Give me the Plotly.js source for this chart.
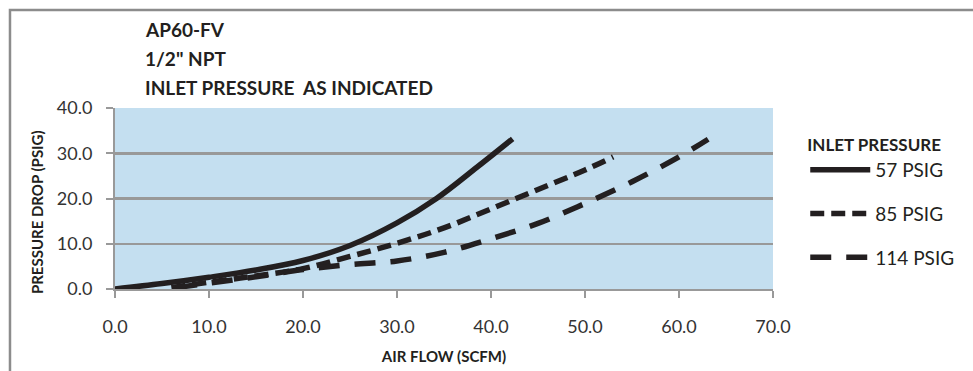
<!DOCTYPE html>
<html><head><meta charset="utf-8">
<script src="https://cdn.plot.ly/plotly-3.0.1.min.js"></script>
<style>html,body{margin:0;padding:0;background:#fff;} #chart{width:973px;height:371px;}</style>
</head><body><div id="chart"></div>
<script>
// Data
const flow57 = [0, 5, 10, 15, 20, 25, 30, 34.2, 38.5, 42.3];
const drop57 = [0, 1.2, 2.6, 4.2, 6.3, 9.6, 14.6, 20.0, 26.9, 33.2];
const flow85 = [6, 10, 15, 20, 25, 30, 35, 40, 45, 50, 53];
const drop85 = [0.3, 1.5, 2.9, 4.5, 7.2, 10.1, 13.5, 17.7, 22.0, 26.3, 29.2];
const flow114 = [6.5, 10, 15, 20, 25, 30, 35, 40, 45, 50, 55, 60, 63.1];
const drop114 = [0.3, 1.3, 2.7, 4.3, 5.4, 6.2, 8.1, 11.1, 14.5, 18.9, 23.7, 29.2, 33.1];
const seriesNames = ['57 PSIG', '85 PSIG', '114 PSIG'];
const xTicks = [0, 10, 20, 30, 40, 50, 60, 70];
const yTicks = [0, 10, 20, 30, 40];
const titleLines = ['AP60-FV', '1/2" NPT', 'INLET PRESSURE\u00a0\u00a0AS INDICATED'];
const legendTitle = 'INLET PRESSURE';
const xTitle = 'AIR FLOW (SCFM)';
const yTitle = 'PRESSURE DROP (PSIG)';

const FONT = 'Lato, "Open Sans", sans-serif';
const INK = '#231f20';
const GRID = '#999999';

const dashes = ['solid', '14px,7px', '21px,15px'];
const xs = [flow57, flow85, flow114];
const ys = [drop57, drop85, drop114];

const traces = seriesNames.map((name, i) => ({
  type: 'scatter', mode: 'lines', name: name,
  x: xs[i], y: ys[i],
  legendgroup: 'g' + i,
  line: {color: INK, width: 5.5, dash: dashes[i], shape: 'spline', smoothing: 1.0}
}));

const titleY = [1.431, 1.276, 1.116];
const annotations = titleLines.map((t, i) => ({
  text: t, xref: 'paper', yref: 'paper', x: 0.0426, y: titleY[i],
  xanchor: 'left', yanchor: 'middle', showarrow: false,
  font: {family: FONT, size: 19, weight: 'bold', color: INK}
}));
annotations.push({
  text: yTitle, xref: 'paper', yref: 'paper', x: -0.1185, y: 0.425,
  xanchor: 'center', yanchor: 'middle', showarrow: false, textangle: -90,
  font: {family: FONT, size: 15, weight: 'bold', color: INK}
});

const layout = {
  width: 973, height: 371,
  margin: {l: 115, r: 200, t: 108, b: 82, pad: 0},
  paper_bgcolor: '#ffffff',
  plot_bgcolor: '#c4dff0',
  showlegend: true,
  xaxis: {
    range: [0, 70], tickvals: xTicks, tickformat: '.1f',
    showline: true, linecolor: GRID, linewidth: 2,
    ticks: 'outside', ticklen: 7, tickwidth: 2, tickcolor: GRID,
    ticklabelstandoff: 13,
    showgrid: false, zeroline: false, fixedrange: true,
    tickfont: {family: FONT, size: 18, color: '#333333'},
    title: {text: xTitle, standoff: 16, font: {family: FONT, size: 15, weight: 'bold', color: INK}}
  },
  yaxis: {
    range: [0, 40], tickvals: yTicks, tickformat: '.1f',
    showline: true, linecolor: GRID, linewidth: 2,
    ticks: 'outside', ticklen: 7, tickwidth: 2, tickcolor: GRID,
    ticklabelstandoff: 10,
    showgrid: true, gridcolor: GRID, gridwidth: 2.5,
    zeroline: false, fixedrange: true,
    tickfont: {family: FONT, size: 18, color: '#333333'}
  },
  legend: {
    x: 1.049, xanchor: 'left', y: 0.885, yanchor: 'top',
    bgcolor: 'rgba(0,0,0,0)', borderwidth: 0,
    traceorder: 'grouped', tracegroupgap: 16, itemwidth: 60,
    font: {family: FONT, size: 19, color: INK},
    title: {text: legendTitle, font: {family: FONT, size: 17, weight: 'bold', color: INK}}
  },
  annotations: annotations,
  shapes: [{
    type: 'path', xref: 'paper', yref: 'paper',
    path: 'M -0.1596 -0.7 L -0.1596 1.5414 L 1.4 1.5414',
    line: {color: '#8c8c8c', width: 2.5}
  }]
};

Plotly.newPlot('chart', traces, layout, {displayModeBar: false, staticPlot: true});
</script>
</body></html>
